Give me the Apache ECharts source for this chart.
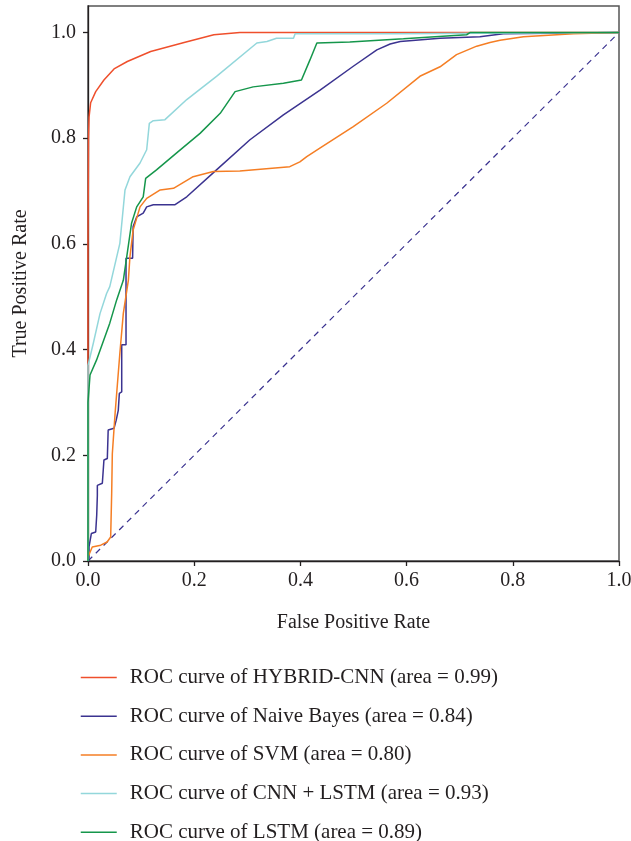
<!DOCTYPE html>
<html>
<head>
<meta charset="utf-8">
<script src="https://cdn.jsdelivr.net/npm/echarts@6/dist/echarts.min.js"></script>
<style>html,body{margin:0;padding:0;background:#fff}#c{width:631px;height:841px}</style>
</head>
<body>
<div id="c"></div>
<script>
const seriesNames = [
  'ROC curve of HYBRID-CNN (area = 0.99)',
  'ROC curve of Naive Bayes (area = 0.84)',
  'ROC curve of SVM (area = 0.80)',
  'ROC curve of CNN + LSTM (area = 0.93)',
  'ROC curve of LSTM (area = 0.89)'
];
const tickValues = [0, 0.2, 0.4, 0.6, 0.8, 1.0];

const hybridFpr = [0, 0, 0.001, 0.002, 0.005, 0.0145, 0.03, 0.049, 0.074, 0.118, 0.181, 0.237, 0.286, 1.0];
const hybridTpr = [0, 0.6, 0.80, 0.84, 0.867, 0.888, 0.910, 0.931, 0.945, 0.964, 0.981, 0.9956, 1.0, 1.0];

const nbFpr = [0, 0.0019, 0.0019, 0.0063, 0.0145, 0.0164, 0.0176, 0.0176, 0.027, 0.030, 0.0364, 0.038, 0.049, 0.053, 0.057, 0.059, 0.0635, 0.0635, 0.0716, 0.0716, 0.084, 0.085, 0.0917, 0.104, 0.1105, 0.123, 0.164, 0.186, 0.242, 0.305, 0.368, 0.437, 0.4996, 0.544, 0.569, 0.588, 0.663, 0.738, 0.782, 1.0];
const nbTpr = [0, 0.005, 0.0265, 0.052, 0.055, 0.0865, 0.124, 0.143, 0.147, 0.191, 0.194, 0.248, 0.251, 0.266, 0.285, 0.317, 0.32, 0.409, 0.409, 0.573, 0.573, 0.633, 0.651, 0.658, 0.670, 0.674, 0.674, 0.689, 0.740, 0.797, 0.844, 0.891, 0.936, 0.967, 0.978, 0.983, 0.989, 0.992, 0.9975, 1.0];

const svmFpr = [0, 0, 0.008, 0.024, 0.036, 0.0427, 0.0446, 0.0458, 0.051, 0.060, 0.0665, 0.076, 0.079, 0.085, 0.098, 0.1105, 0.136, 0.161, 0.198, 0.236, 0.286, 0.380, 0.399, 0.412, 0.4366, 0.4996, 0.5625, 0.625, 0.663, 0.694, 0.732, 0.757, 0.776, 0.820, 0.914, 1.0];
const svmTpr = [0, 0.0076, 0.0265, 0.030, 0.036, 0.0455, 0.128, 0.203, 0.279, 0.393, 0.4685, 0.531, 0.576, 0.626, 0.670, 0.686, 0.702, 0.705, 0.727, 0.737, 0.738, 0.746, 0.755, 0.765, 0.781, 0.822, 0.866, 0.917, 0.935, 0.958, 0.974, 0.981, 0.985, 0.992, 0.9975, 1.0];

const cnnLstmFpr = [0, 0, 0.01, 0.0226, 0.035, 0.041, 0.060, 0.0697, 0.079, 0.098, 0.1105, 0.1155, 0.123, 0.145, 0.186, 0.242, 0.318, 0.337, 0.355, 0.387, 0.39, 0.578, 0.58, 1.0];
const cnnLstmTpr = [0, 0.37, 0.412, 0.468, 0.506, 0.519, 0.601, 0.702, 0.727, 0.753, 0.778, 0.828, 0.833, 0.835, 0.873, 0.917, 0.980, 0.983, 0.989, 0.989, 0.9975, 0.9975, 1.0, 1.0];

const lstmFpr = [0, 0, 0.0038, 0.016, 0.041, 0.054, 0.0665, 0.073, 0.082, 0.0917, 0.104, 0.1086, 0.129, 0.167, 0.211, 0.249, 0.277, 0.311, 0.368, 0.402, 0.418, 0.431, 0.493, 0.594, 0.713, 0.72, 1.0];
const lstmTpr = [0, 0.30, 0.352, 0.380, 0.45, 0.494, 0.531, 0.576, 0.639, 0.670, 0.689, 0.724, 0.740, 0.772, 0.809, 0.847, 0.888, 0.897, 0.904, 0.910, 0.948, 0.980, 0.982, 0.988, 0.9956, 1.0, 1.0];

const diagFpr = [0, 1];
const diagTpr = [0, 1];

const colors = ['#ef4f2c', '#3b3390', '#f57e24', '#93d7db', '#15964b'];
const diagColor = '#3b3390';

function zip(xs, ys) { return xs.map((x, i) => [x, ys[i]]); }

const curves = [
  [hybridFpr, hybridTpr],
  [nbFpr, nbTpr],
  [svmFpr, svmTpr],
  [cnnLstmFpr, cnnLstmTpr],
  [lstmFpr, lstmTpr]
];

const FONT = 'Liberation Serif';
const chart = echarts.init(document.getElementById('c'), null, { renderer: 'canvas' });

const series = [{
  name: 'chance',
  type: 'line',
  data: zip(diagFpr, diagTpr),
  showSymbol: false,
  symbol: 'none',
  lineStyle: { color: diagColor, width: 1.2, type: [6, 5] },
  silent: true,
  z: 1
}];
curves.forEach((c, i) => {
  series.push({
    name: seriesNames[i],
    type: 'line',
    data: zip(c[0], c[1]),
    symbol: 'none',
    showSymbol: false,
    clip: false,
    color: colors[i],
    itemStyle: { color: colors[i] },
    lineStyle: { color: colors[i], width: 1.5 },
    z: 2 + i
  });
});

chart.setOption({
  animation: false,
  backgroundColor: '#fff',
  grid: {
    left: 88, right: 12, top: 6, bottom: 280,
    show: true, borderColor: '#555', borderWidth: 1.5,
    outerBoundsMode: 'none'
  },
  xAxis: {
    type: 'value', min: 0, max: 1, interval: 0.2,
    name: 'False Positive Rate', nameLocation: 'middle', nameGap: 52,
    nameTextStyle: { fontFamily: FONT, fontSize: 20, color: '#231f20' },
    axisLine: { show: true, lineStyle: { color: '#231f20', width: 1.3 } },
    axisTick: { show: true, inside: false, length: 5, lineStyle: { color: '#231f20', width: 1.3 } },
    axisLabel: { fontFamily: FONT, fontSize: 20, color: '#231f20', margin: 10,
      formatter: v => v.toFixed(1) },
    splitLine: { show: false }
  },
  yAxis: {
    type: 'value', min: 0, max: 1.05,
    name: 'True Positive Rate', nameLocation: 'middle', nameGap: 57,
    nameTextStyle: { fontFamily: FONT, fontSize: 20, color: '#231f20' },
    axisLine: { show: true, lineStyle: { color: '#231f20', width: 1.3 } },
    axisTick: { show: true, inside: false, length: 5, customValues: tickValues,
      lineStyle: { color: '#231f20', width: 1.3 } },
    axisLabel: { fontFamily: FONT, fontSize: 20, color: '#231f20', margin: 12,
      customValues: tickValues, formatter: v => v.toFixed(1) },
    splitLine: { show: false }
  },
  legend: {
    data: seriesNames,
    orient: 'vertical',
    left: 75, top: 662, height: 200, width: 540,
    itemWidth: 36, itemHeight: 20, itemGap: 17.7,
    itemStyle: { opacity: 0 },
    lineStyle: { width: 1.5 },
    textStyle: { fontFamily: FONT, fontSize: 21, color: '#231f20', lineHeight: 20, padding: [0, 0, 0, 8] },
    selectedMode: false
  },
  series: series
});
</script>
</body>
</html>
